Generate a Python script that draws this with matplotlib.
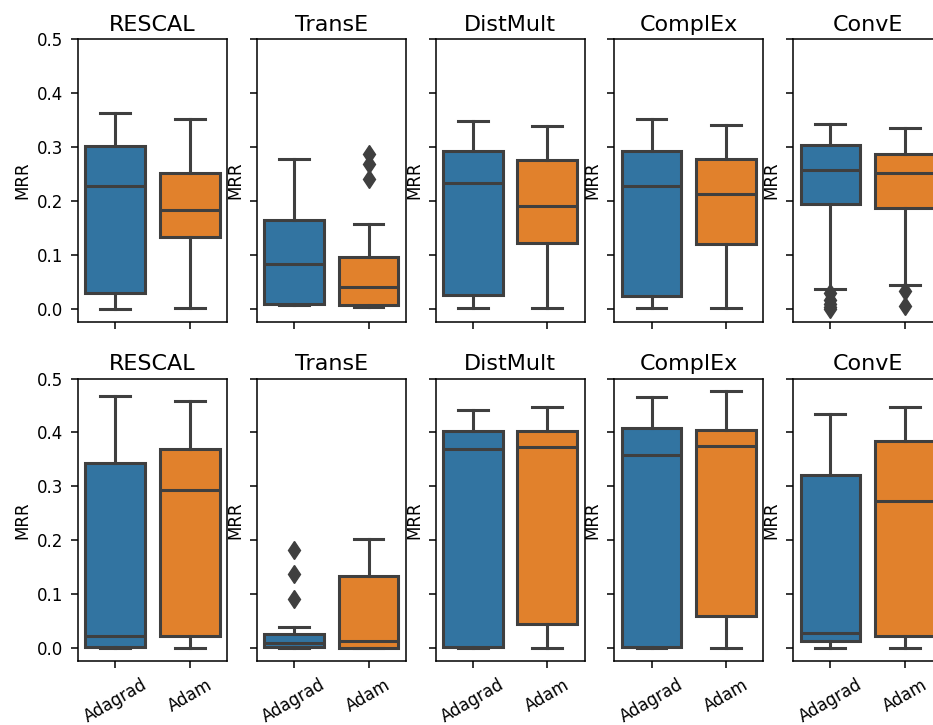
import matplotlib
matplotlib.use("Agg")
import matplotlib.pyplot as plt

models = ["RESCAL", "TransE", "DistMult", "ComplEx", "ConvE"]
optimizers = ["Adagrad", "Adam"]

# box stats per row: [model][optimizer] -> (whislo, q1, med, q3, whishi)
top_stats = [
    [(0.000, 0.029, 0.228, 0.302, 0.362), (0.001, 0.133, 0.183, 0.252, 0.352)],
    [(0.006, 0.009, 0.083, 0.165, 0.277), (0.004, 0.006, 0.041, 0.096, 0.157)],
    [(0.001, 0.026, 0.233, 0.293, 0.347), (0.001, 0.122, 0.190, 0.276, 0.339)],
    [(0.001, 0.023, 0.228, 0.293, 0.351), (0.001, 0.120, 0.212, 0.277, 0.340)],
    [(0.036, 0.195, 0.257, 0.303, 0.343), (0.044, 0.186, 0.252, 0.287, 0.335)],
]
top_fliers = [
    [[], []],
    [[], [0.287, 0.269, 0.241]],
    [[], []],
    [[], []],
    [[0.030, 0.017, 0.009, 0.004, 0.000], [0.032, 0.005]],
]

bottom_stats = [
    [(0.000, 0.002, 0.023, 0.344, 0.468), (0.000, 0.022, 0.294, 0.370, 0.459)],
    [(0.000, 0.002, 0.010, 0.026, 0.039), (0.000, 0.001, 0.014, 0.134, 0.202)],
    [(0.000, 0.003, 0.369, 0.403, 0.441), (0.000, 0.045, 0.374, 0.403, 0.447)],
    [(0.000, 0.003, 0.358, 0.409, 0.465), (0.000, 0.059, 0.375, 0.404, 0.476)],
    [(0.000, 0.014, 0.029, 0.322, 0.434), (0.000, 0.023, 0.273, 0.385, 0.447)],
]
bottom_fliers = [
    [[], []],
    [[0.183, 0.138, 0.092], []],
    [[], []],
    [[], []],
    [[], []],
]

box_colors = ["#3274a1", "#e1812c"]
line_color = "#3f3f3f"

fig = plt.figure(figsize=(9.33, 7.25), dpi=100)

left0 = 0.0836
width = 0.1597
step = 0.1916
height = 0.390
row_bottoms = [0.5563, 0.0879]


def draw_panel(ax, stats, fliers):
    items = []
    for (lo, q1, med, q3, hi), fl in zip(stats, fliers):
        items.append({"whislo": lo, "q1": q1, "med": med, "q3": q3,
                      "whishi": hi, "fliers": fl})
    bp = ax.bxp(items, positions=[0, 1], widths=0.8, patch_artist=True,
                showfliers=True,
                boxprops=dict(edgecolor=line_color, linewidth=2.2),
                medianprops=dict(color=line_color, linewidth=2.2),
                whiskerprops=dict(color=line_color, linewidth=2.2),
                capprops=dict(color=line_color, linewidth=2.2),
                capwidths=0.4,
                flierprops=dict(marker="d", markerfacecolor=line_color,
                                markeredgecolor=line_color, markersize=9.5))
    for patch, c in zip(bp["boxes"], box_colors):
        patch.set_facecolor(c)
    ax.set_xlim(-0.5, 1.5)
    ax.set_ylim(-0.024, 0.5)
    ax.set_yticks([0.0, 0.1, 0.2, 0.3, 0.4, 0.5])
    ax.set_xticks([0, 1])
    ax.tick_params(length=5, width=1.1, labelsize=12, pad=5.5)
    for sp in ax.spines.values():
        sp.set_linewidth(1.1)
    ax.set_ylabel("MRR", fontsize=12)


for r, (stats_row, fliers_row) in enumerate([(top_stats, top_fliers),
                                              (bottom_stats, bottom_fliers)]):
    for c, model in enumerate(models):
        ax = fig.add_axes([left0 + c * step, row_bottoms[r], width, height])
        draw_panel(ax, stats_row[c], fliers_row[c])
        ax.set_title(model, fontsize=16, pad=6)
        if c > 0:
            ax.tick_params(labelleft=False)
        if r == 0:
            ax.tick_params(labelbottom=False)
        else:
            ax.set_xticklabels(optimizers, rotation=30, fontsize=12)

fig.savefig("out.png", dpi=100)
